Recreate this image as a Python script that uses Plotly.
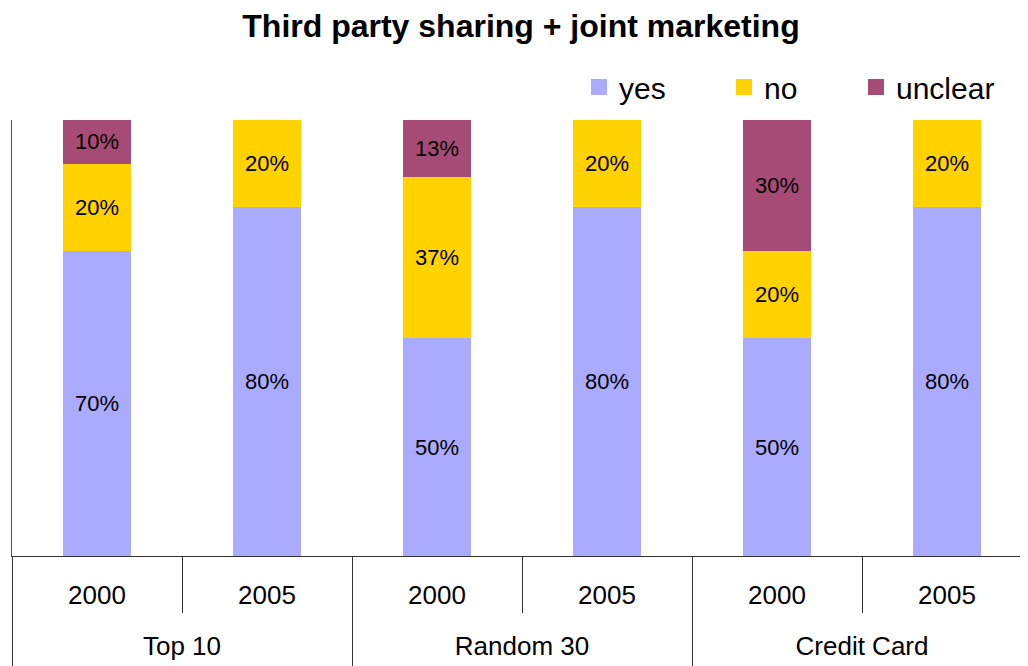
import plotly.graph_objects as go

groups = ["Top 10", "Random 30", "Credit Card"]
years_per_group = ["2000", "2005"]
bar_groups = ["Top 10", "Top 10", "Random 30", "Random 30", "Credit Card", "Credit Card"]
years = ["2000", "2005", "2000", "2005", "2000", "2005"]
yes_vals = [70, 80, 50, 80, 50, 80]
no_vals = [20, 20, 37, 20, 20, 20]
unclear_vals = [10, 0, 13, 0, 30, 0]

series = [
    ("yes", yes_vals, "#AAAAFF"),
    ("no", no_vals, "#FFD200"),
    ("unclear", unclear_vals, "#A64B76"),
]

FONT = "Liberation Sans, Arial, sans-serif"
n = len(years)
pos = list(range(n))
k = len(years_per_group)
group_centers = [i * k + (k - 1) / 2 for i in range(len(groups))]
inner_bounds = [i + 0.5 for i in range(n - 1)]
group_bounds = [i * k - 0.5 for i in range(len(groups) + 1)]

fig = go.Figure()
for name, vals, color in series:
    fig.add_trace(go.Bar(
        name=name,
        x=pos,
        y=vals,
        marker=dict(color=color, line=dict(width=0)),
        text=[f"{v}%" if v else "" for v in vals],
        textposition="inside",
        insidetextanchor="middle",
        textangle=0,
        textfont=dict(color="black", size=22, family=FONT),
        hoverinfo="skip",
        showlegend=False,
    ))

legend_names = ["legend", "legend2", "legend3"]
legend_x_px = [579, 724, 856]
for (name, vals, color), lg in zip(series, legend_names):
    fig.add_trace(go.Scatter(
        name=name,
        x=[None], y=[None],
        xaxis="x2",
        mode="markers",
        marker=dict(symbol="square", size=20, color=color),
        legend=lg,
        hoverinfo="skip",
    ))

W, H = 1028, 666
legend_common = dict(
    orientation="h",
    xref="container", yref="container",
    xanchor="left", yanchor="middle",
    y=1 - 79 / H,
    font=dict(size=30, family=FONT, color="black"),
    bgcolor="rgba(0,0,0,0)",
    borderwidth=0,
    itemwidth=30,
)

layout_legends = {}
for lg, xp in zip(legend_names, legend_x_px):
    layout_legends[lg] = dict(legend_common, x=(xp - 8) / W)

fig.update_layout(
    barmode="stack",
    bargap=0.6,
    width=W,
    height=H,
    margin=dict(l=4, r=4, t=112, b=118),
    paper_bgcolor="white",
    plot_bgcolor="white",
    font=dict(family=FONT, color="black"),
    title=dict(
        text="<b>Third party sharing + joint marketing</b>",
        xref="container", yref="container",
        x=(521 - 8) / W, xanchor="center",
        y=1 - 18 / H, yanchor="middle",
        font=dict(size=32, color="black", family=FONT),
    ),
    showlegend=True,
    **layout_legends,
)

axis_col = "#333333"
fig.update_layout(
    xaxis=dict(
        range=[-0.5, n - 0.5],
        tickmode="array",
        tickvals=pos,
        ticktext=years,
        ticks="",
        ticklabelstandoff=16,
        tickfont=dict(size=26, color="black", family=FONT),
        showline=True,
        linecolor=axis_col,
        linewidth=1,
        showgrid=False,
        zeroline=False,
        minor=dict(
            tickmode="array",
            tickvals=inner_bounds,
            ticks="outside",
            ticklen=56,
            tickcolor=axis_col,
            tickwidth=1,
            showgrid=False,
        ),
    ),
    xaxis2=dict(
        overlaying="x",
        side="bottom",
        anchor="y",
        range=[-0.5, n - 0.5],
        tickmode="array",
        tickvals=group_centers,
        ticktext=groups,
        ticks="",
        ticklabelstandoff=72,
        tickfont=dict(size=26, color="black", family=FONT),
        showline=False,
        showgrid=False,
        zeroline=False,
        minor=dict(
            tickmode="array",
            tickvals=group_bounds,
            ticks="outside",
            ticklen=112,
            tickcolor=axis_col,
            tickwidth=1,
            showgrid=False,
        ),
    ),
    yaxis=dict(
        range=[0, 100],
        showline=True,
        linecolor="#555555",
        linewidth=1,
        showticklabels=False,
        ticks="",
        showgrid=False,
        zeroline=False,
    ),
)

fig.write_html("out.html")
